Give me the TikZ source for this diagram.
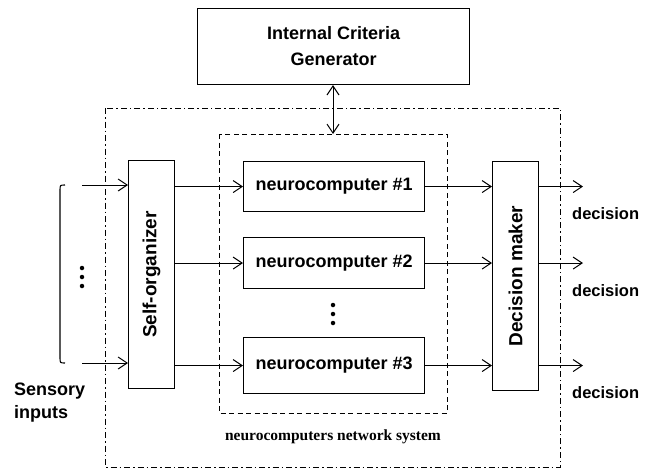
\documentclass[tikz,border=0pt]{standalone}
\usepackage{fontspec}
\setmainfont{Liberation Sans}
\newfontfamily\labelserif{Liberation Serif}
\usetikzlibrary{arrows.meta}
\begin{document}
\begin{tikzpicture}[x=1pt,y=-1pt,
  every node/.style={font=\bfseries\fontsize{18}{20}\selectfont},
  block/.style={draw,line width=1.1pt,inner sep=0pt,anchor=north west},
  conn/.style={line width=1pt,-{Straight Barb[length=9pt,width=12pt,line width=1pt]}},
  biconn/.style={line width=1pt,{Straight Barb[length=9pt,width=12pt,line width=1pt]}-{Straight Barb[length=9pt,width=12pt,line width=1pt]}},
  outerframe/.style={draw,line width=0.8pt,dash pattern=on 6pt off 3pt on 1.5pt off 3pt},
  innerframe/.style={draw,line width=0.8pt,dash pattern=on 5pt off 3.5pt},
  dot/.style={fill,circle,inner sep=0pt,minimum size=4.5pt}
]
\useasboundingbox (0,0) rectangle (657,469);

% frames
\draw[outerframe] (105,108) rectangle (560,467);
\draw[innerframe] (219,134) rectangle (447,413);
\coordinate (innertop) at (333,134);

% criteria generator
\node[block,minimum width=272pt,minimum height=76pt,align=center] (icg) at (197,8)
  {Internal Criteria\\[6pt]Generator};

% self-organizer and decision maker
\node[block,minimum width=46pt,minimum height=228pt] (so) at (128,160) {};
\node[rotate=90,font=\bfseries\fontsize{19}{20}\selectfont] (solbl) at (so.center) {Self-organizer};
\node[block,minimum width=46pt,minimum height=229pt] (dm) at (492,161) {};
\node[rotate=90,font=\bfseries\fontsize{19}{20}\selectfont] (dmlbl) at (dm.center) {Decision maker};

% neurocomputers
\node[block,minimum width=181pt,minimum height=50pt] (nc1) at (243,161) {};
\node (nc1t) at (nc1.center) {neurocomputer \#1};
\node[block,minimum width=181pt,minimum height=51pt] (nc2) at (243,237) {};
\node (nc2t) at (nc2.center) {neurocomputer \#2};
\node[block,minimum width=181pt,minimum height=56pt] (nc3) at (243,337) {};
\node (nc3t) at (nc3.center) {neurocomputer \#3};

% vertical ellipses
\node[dot] (md1) at (333,305) {};
\node[dot] (md2) at (333,314) {};
\node[dot] (md3) at (333,323) {};
\node[dot] (id1) at (82,268) {};
\node[dot] (id2) at (82,277) {};
\node[dot] (id3) at (82,286) {};

% sensory inputs
\coordinate (in1) at (82,185);
\coordinate (in2) at (82,363);
\draw[conn] (in1) -- (so.west |- in1);
\draw[conn] (in2) -- (so.west |- in2);
\draw[line width=1.1pt] (65,185) .. controls (60,185) .. (60,191) -- (60,357) .. controls (60,363) .. (65,363);
\node[anchor=north west,align=left,inner sep=0pt,font=\bfseries\fontsize{18}{23}\selectfont] (sens) at (14,383) {Sensory\\inputs};

% internal connections
\draw[biconn] (icg.south -| innertop) -- (innertop);
\foreach \n in {nc1,nc2,nc3} {
  \draw[conn] (so.east |- \n.center) -- (\n.west);
  \draw[conn] (\n.east) -- (dm.west |- \n.center);
}

% outputs
\foreach \n/\i in {nc1/1,nc2/2,nc3/3} {
  \coordinate (out\i) at (583,0 |- \n.center);
  \draw[conn] (dm.east |- \n.center) -- (out\i);
  \node[anchor=north west,inner sep=0pt,font=\bfseries\fontsize{16.5}{18}\selectfont] (dec\i) at ([yshift=-21pt]out\i -| 572,0) {decision};
}

% system label
\node[font=\labelserif\bfseries\fontsize{15.5}{17}\selectfont] (syslbl) at (333,437) {neurocomputers network system};
\end{tikzpicture}
\end{document}
